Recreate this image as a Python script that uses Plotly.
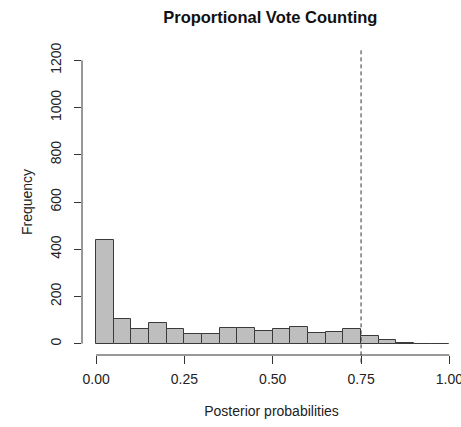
import numpy as np
import plotly.graph_objects as go

# Histogram data (bin width 0.05 from 0 to 1)
bin_edges = [0.00, 0.05, 0.10, 0.15, 0.20, 0.25, 0.30, 0.35, 0.40, 0.45,
             0.50, 0.55, 0.60, 0.65, 0.70, 0.75, 0.80, 0.85, 0.90, 0.95, 1.00]
counts = [440, 103, 64, 89, 64, 40, 40, 66, 66, 52,
          61, 71, 44, 48, 64, 33, 16, 4, 0, 0]
x_tickvals = [0, 0.25, 0.5, 0.75, 1.0]
x_ticktext = ["0.00", "0.25", "0.50", "0.75", "1.00"]
y_tickvals = [0, 200, 400, 600, 800, 1000, 1200]
threshold = 0.75

edges = np.array(bin_edges)
centers = (edges[:-1] + edges[1:]) / 2
widths = np.diff(edges)

FONT = "Liberation Sans, Arial, sans-serif"
AX = "#333333"

fig = go.Figure()
fig.add_trace(go.Bar(
    x=centers, y=counts, width=widths,
    marker=dict(color="#BEBEBE", line=dict(color="#3a3a3a", width=1)),
    hoverinfo="skip", showlegend=False,
))

W, H = 461, 427
ml, mt, mb = 81.6, 49.4, 72.4
px_per_unit = 353.6
xr0 = -0.04
xr1 = xr0 + (W - ml) / px_per_unit

fig.update_layout(
    width=W, height=H,
    margin=dict(l=ml, r=0, t=mt, b=mb, pad=0),
    plot_bgcolor="white", paper_bgcolor="white",
    font=dict(family=FONT, color="#222222", size=14),
    bargap=0,
    title=dict(text="<b>Proportional Vote Counting</b>",
               font=dict(family=FONT, size=16.5, color="#111111"),
               x=(ml + (W - ml) / 2 - 1) / W, xanchor="center",
               y=1 - 17 / H, yanchor="middle"),
    xaxis=dict(range=[xr0, xr1], showgrid=False, zeroline=False, showline=False,
               automargin=False,
               tickmode="array", tickvals=x_tickvals, ticktext=x_ticktext,
               ticks="outside", ticklen=8, tickcolor=AX, tickwidth=1,
               tickfont=dict(size=14), ticklabelstandoff=3,
               ticklabeloverflow="allow",
               title=dict(text="Posterior probabilities", standoff=20,
                          font=dict(size=14))),
    yaxis=dict(range=[-48, 1248], showgrid=False, zeroline=False, showline=False,
               automargin=False,
               tickmode="array", tickvals=y_tickvals,
               ticks="outside", ticklen=7, tickcolor=AX, tickwidth=1,
               tickangle=-90, tickfont=dict(size=14), ticklabelstandoff=7,
               title=dict(text="Frequency", standoff=12,
                          font=dict(size=14))),
    shapes=[
        dict(type="line", xref="x", yref="paper", x0=0, x1=1, y0=0, y1=0,
             line=dict(color=AX, width=1)),
        dict(type="line", xref="paper", yref="y", x0=0, x1=0, y0=0, y1=1200,
             line=dict(color=AX, width=1)),
        dict(type="line", xref="x", yref="paper", x0=threshold, x1=threshold,
             y0=-0.024, y1=1, line=dict(color=AX, width=1, dash="4px,3px")),
    ],
)

fig.write_html("out.html")
